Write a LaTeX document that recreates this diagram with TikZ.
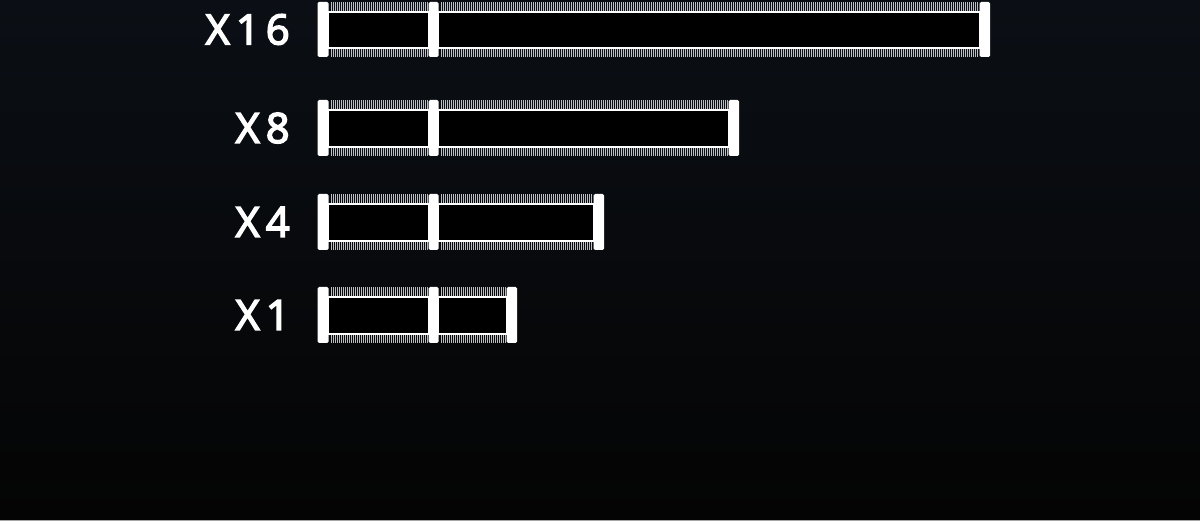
\documentclass[tikz,border=0pt]{standalone}
\usepackage{fontspec}
\setmainfont{Noto Sans}
\definecolor{bgtop}{HTML}{0B0F15}
\definecolor{bgbot}{HTML}{040404}
\definecolor{pingray}{HTML}{BEBEBE}
\tikzset{
  lbl/.style={text=white, inner sep=0pt, anchor=base east, font=\fontsize{42}{42}\selectfont\addfontfeature{LetterSpace=14,FakeBold=3}},
  pins/.style={draw=pingray, line width=9pt, dash pattern=on 1.1pt off 0.9pt},
  cavity/.style={draw=white, line width=1.8pt, fill=black},
  bar/.style={fill=white, rounded corners=1.5pt},
}
\begin{document}
\begin{tikzpicture}[x=1pt,y=-1pt]
\useasboundingbox (0,0) rectangle (1200,521);
\shade[top color=bgtop, bottom color=bgbot] (0,0) rectangle (1200,521);
\foreach \name/\yt/\yb/\xr in {X16/2/57/990, X8/100/156/739, X4/194/250/604, X1/287/343/517} {
  % pins
  \draw[pins] (331,\yt+5) -- (428,\yt+5);
  \draw[pins] (441,\yt+5) -- (\xr-11,\yt+5);
  \draw[pins] (331,\yb-4.5) -- (428,\yb-4.5);
  \draw[pins] (441,\yb-4.5) -- (\xr-11,\yb-4.5);
  % cavities
  \draw[cavity] (328,\yt+10) rectangle (429,\yb-9);
  \draw[cavity] (438,\yt+10) rectangle (\xr-10,\yb-9);
  % bars
  \fill[bar] (317.5,\yt) rectangle (328.5,\yb);
  \fill[bar] (428.5,\yt) rectangle (438.5,\yb);
  \fill[bar] (\xr-10.5,\yt) rectangle (\xr,\yb);
  % label
  \node[lbl] (l\name) at (290,{(\yt+\yb)/2+15}) {\name};
}
\draw[gray!70, line width=1pt] (0,520.5) -- (1200,520.5);
\end{tikzpicture}
\end{document}
